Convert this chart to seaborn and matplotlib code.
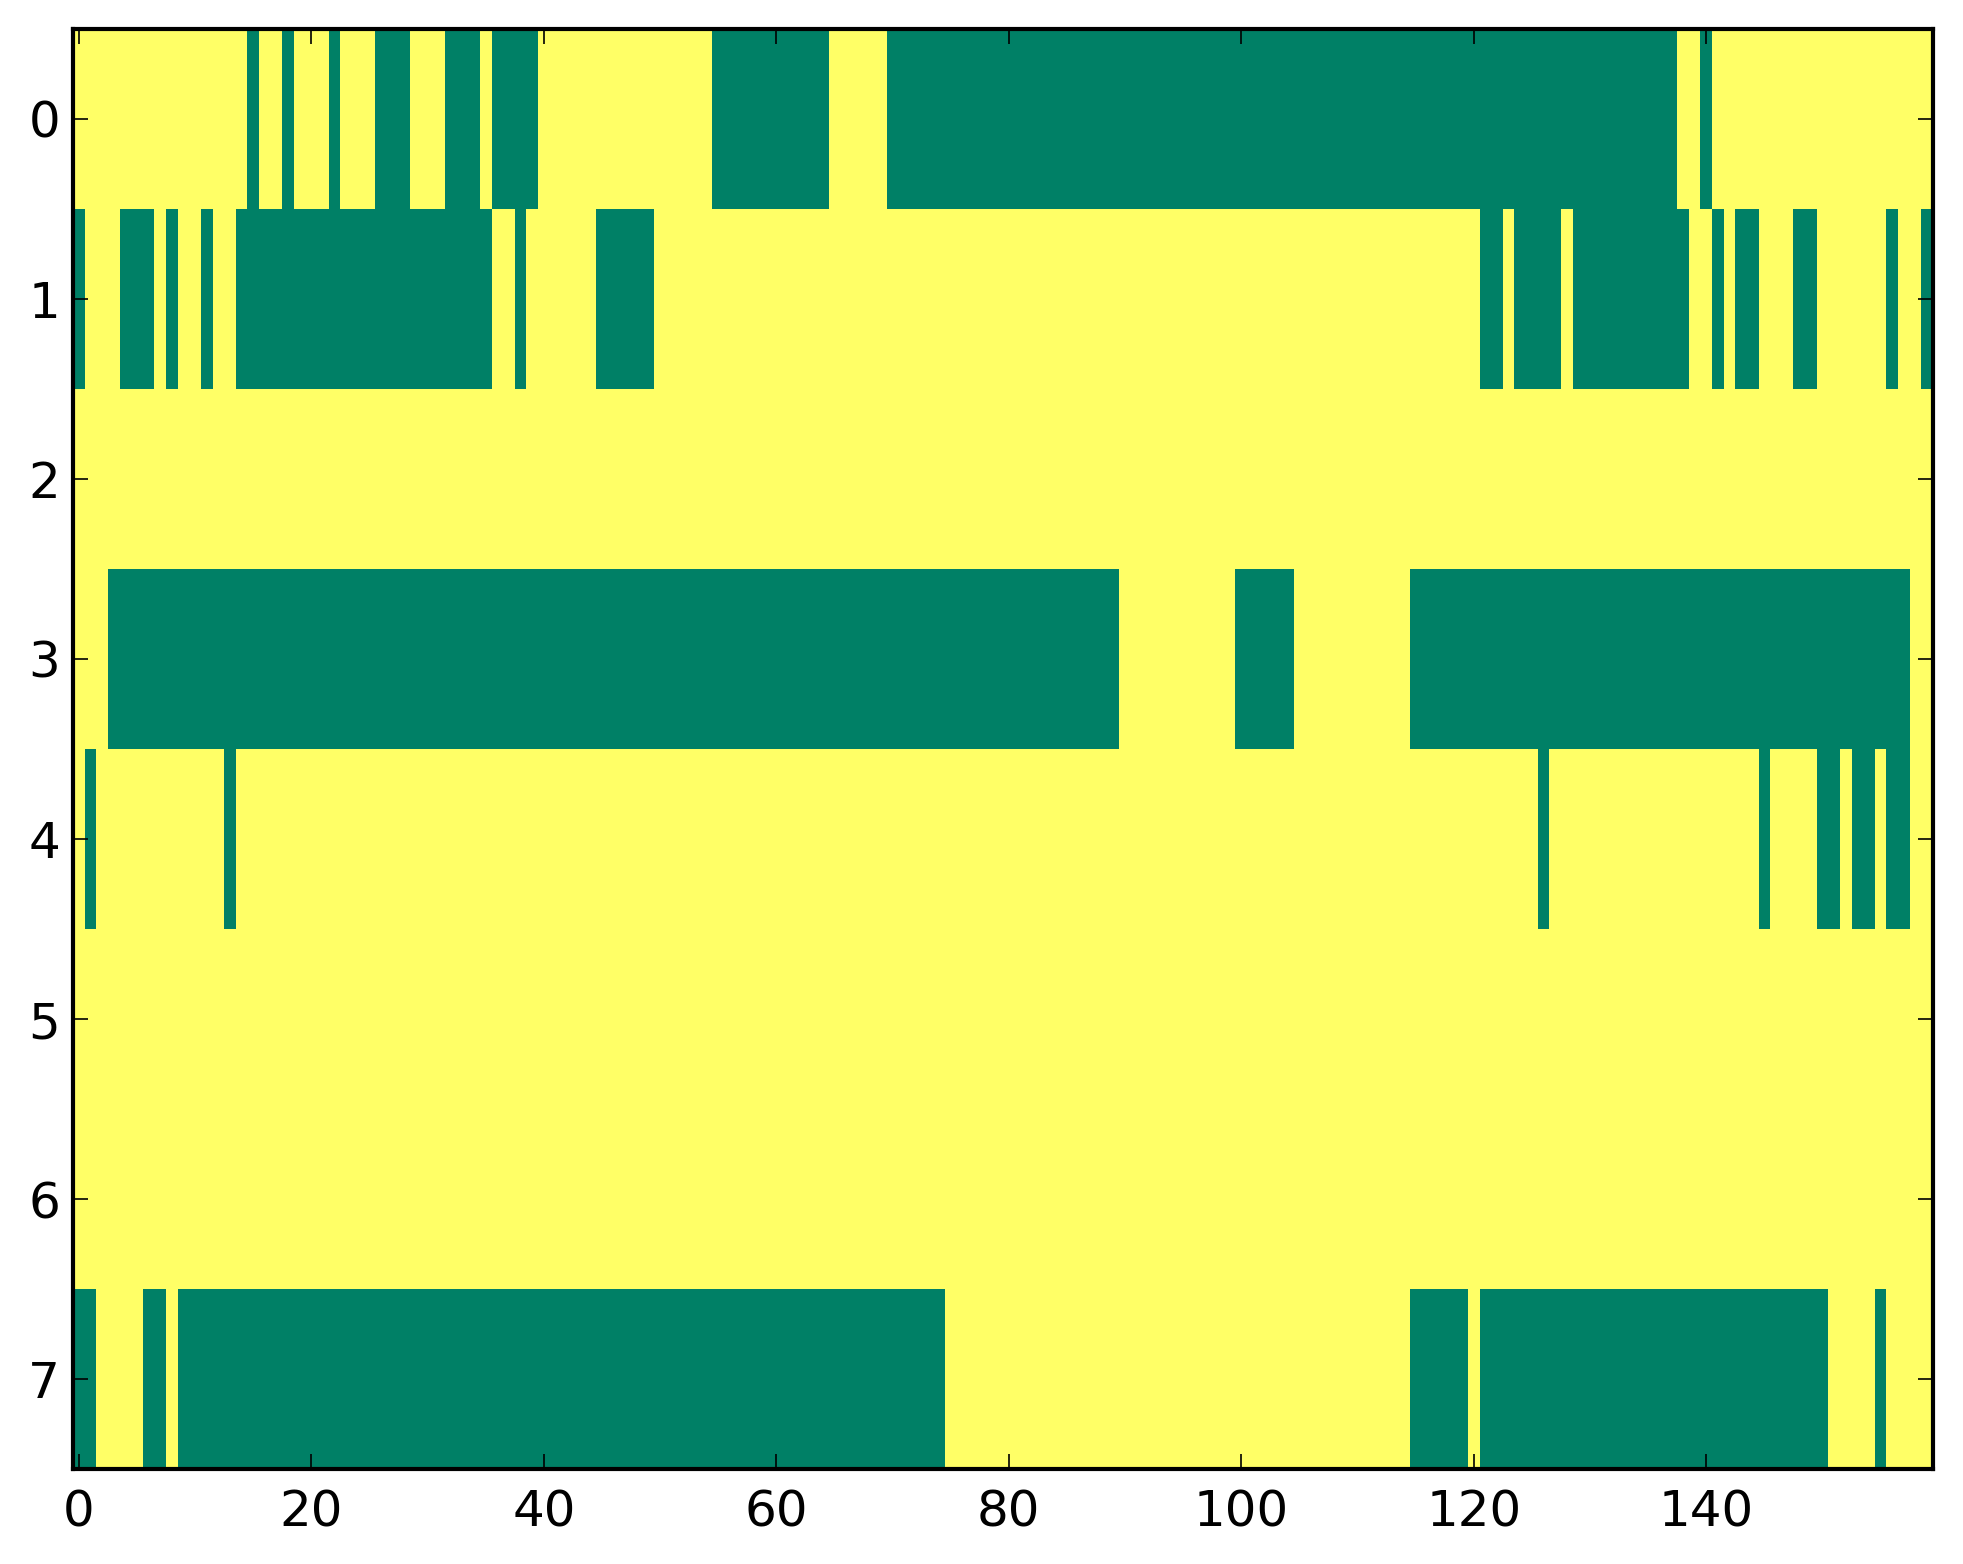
import numpy as np
import seaborn as sns
import matplotlib.pyplot as plt

plt.rcParams["font.family"] = ["DejaVu Sans"]
plt.rcParams["font.size"] = 18

n_rows = 8
n_cols = 160

# green cells (value 0) per row, as inclusive column runs; all other cells are 1
row0_green = [(15, 15), (18, 18), (22, 22), (26, 28), (32, 34), (36, 39),
              (55, 64), (70, 137), (140, 140)]
row1_green = [(0, 0), (4, 6), (8, 8), (11, 11), (14, 35), (38, 38), (45, 49),
              (121, 122), (124, 127), (129, 138), (141, 141), (143, 144),
              (148, 149), (156, 156), (159, 159)]
row2_green = []
row3_green = [(3, 89), (100, 104), (115, 157)]
row4_green = [(1, 1), (13, 13), (126, 126), (145, 145), (150, 151),
              (153, 154), (156, 157)]
row5_green = []
row6_green = []
row7_green = [(0, 1), (6, 7), (9, 74), (115, 119), (121, 150), (155, 155)]

rows = [row0_green, row1_green, row2_green, row3_green,
        row4_green, row5_green, row6_green, row7_green]

xtick_values = [0, 20, 40, 60, 80, 100, 120, 140]
ytick_values = list(range(n_rows))

grid = np.ones((n_rows, n_cols))
for r, runs in enumerate(rows):
    for a, b in runs:
        grid[r, a:b + 1] = 0

fig = plt.figure(figsize=(1963 / 200, 1564 / 200), dpi=200)
ax = fig.add_axes([0.0372, 0.0607, 0.9475, 0.9208])

sns.heatmap(grid, cmap="summer", vmin=0, vmax=1, cbar=False,
            xticklabels=False, yticklabels=False, ax=ax)

ax.set_xticks(np.array(xtick_values) + 0.5)
ax.set_xticklabels([str(v) for v in xtick_values], rotation=0)
ax.set_yticks(np.array(ytick_values) + 0.5)
ax.set_yticklabels([str(v) for v in ytick_values], rotation=0)

for s in ax.spines.values():
    s.set_visible(True)
    s.set_linewidth(1.5)
    s.set_color("black")

ax.tick_params(axis="both", which="major", direction="in", length=5.4,
               width=0.6, top=True, right=True, labelsize=18, colors="black")
ax.tick_params(axis="x", pad=7)
ax.tick_params(axis="y", pad=4.6)

plt.savefig("out.png", dpi=200)
